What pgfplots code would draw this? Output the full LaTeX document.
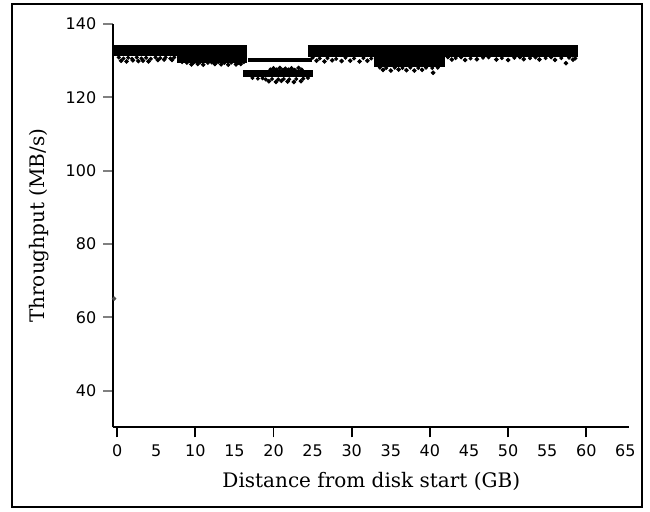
\documentclass[border=0pt]{standalone}
\usepackage{fontspec}
\setmainfont{DejaVu Serif}
\newfontfamily\tickfont{DejaVu Sans}
\usepackage{pgfplots}
\pgfplotsset{compat=1.18}

\begin{document}
\begin{tikzpicture}
\begin{axis}[at={(56.65pt,41.85pt)},anchor=south west,
 scale only axis,width=258pt,height=201.65pt,
 xmin=-0.5,xmax=65.5,ymin=30,ymax=140,clip=false,
 axis lines*=left,axis line style={line width=0.9pt},
 tick align=outside,major tick length=5pt,minor tick length=5pt,
 xtick={0,5,...,65},minor xtick={0,10,...,60},
 ytick={40,60,...,140},
 every major x tick/.append style={draw=none},
 every minor x tick/.append style={draw=black,line width=0.9pt},
 every major y tick/.append style={line width=0.9pt},
 /pgf/number format/assume math mode=true,
 tick label style={font=\tickfont\fontsize{8pt}{9pt}\selectfont},
 xlabel={Distance from disk start (GB)},ylabel={Throughput (MB/s)},
 label style={font=\fontsize{10pt}{12pt}\selectfont},
 xlabel style={at={(axis description cs:0.5,-0.1488)},anchor=base},
 ylabel style={at={(axis description cs:-0.1325,0.5)},anchor=base}]
% bands
\addplot[black,line width=5.5pt,no marks] coordinates {(-0.6,132.8) (16.6,132.8)};
\addplot[black,line width=3.5pt,no marks] coordinates {(7.6,130.35) (16.6,130.35)};
\addplot[black,line width=1.75pt,no marks] coordinates {(16.7,130.2) (24.9,130.2)};
\addplot[black,line width=3.3pt,no marks] coordinates {(16.1,126.5) (25.0,126.5)};
\addplot[black,line width=5.8pt,no marks] coordinates {(24.4,132.7) (59.0,132.7)};
\addplot[black,line width=5pt,no marks] coordinates {(32.9,129.7) (41.9,129.7)};
% fringe just under the bands
\addplot[only marks,mark=*,mark size=0.8pt,black] coordinates {
 (0.2,130.9) (0.8,130.6) (1.4,130.8) (1.9,130.5) (2.5,130.9) (3.1,130.6) (3.7,130.8) (4.3,130.5) (4.9,130.9) (5.5,130.7) (6.2,130.9) (6.8,130.6) (7.3,130.9)
 (8.3,129.6) (8.9,129.4) (9.8,129.5) (10.6,129.6) (11.6,129.4) (12.1,129.5) (12.9,129.6) (13.7,129.4) (14.6,129.5) (15.5,129.4) (16.2,129.6)
 (17.3,125.3) (18.0,125.1) (18.6,125.2) (19.0,124.9) (19.8,125.0) (20.6,124.9) (21.3,125.0) (22.0,124.9) (22.9,125.0) (23.8,125.1) (24.4,125.3)
 (19.6,127.6) (20.4,127.6) (21.2,127.5) (21.9,127.6) (22.7,127.5) (23.6,127.6)
 (25.0,130.8) (25.9,130.6) (26.9,130.7) (28.0,130.5) (29.2,130.8) (30.3,130.6) (31.5,130.7) (32.5,130.6)
 (42.3,130.9) (43.3,130.7) (44.0,130.9) (45.2,130.6) (46.8,130.8) (47.5,130.9) (49.2,130.7) (50.8,130.8) (51.5,130.9) (52.8,130.7) (53.5,130.9) (54.8,130.7) (55.5,130.9) (56.8,130.7) (57.8,130.8) (58.6,130.6)
 (33.6,128.1) (34.4,128.0) (35.5,128.1) (36.5,128.0) (37.5,128.1) (38.5,128.0) (39.5,128.1) (40.3,128.0) (41.0,128.1)
};
% scattered points
\addplot[only marks,mark=*,mark size=0.95pt,black] coordinates {
 (0.5,130.0) (1.2,129.8) (2.0,130.1) (2.7,129.9) (3.3,130.0) (4.0,129.8) (5.2,130.2) (6.0,130.3) (7.0,130.2)
 (9.5,129.0) (10.3,129.1) (11.0,128.9) (12.5,129.1) (13.3,129.0) (14.2,128.9) (15.2,129.0) (15.8,129.1)
 (19.4,124.4) (20.3,124.2) (21.0,124.5) (21.8,124.3) (22.6,124.2) (23.5,124.4)
 (20.0,127.9) (20.8,128.0) (21.5,127.8) (22.3,127.9) (23.2,128.0)
 (25.5,130.0) (26.5,129.8) (27.5,130.1) (28.7,129.9) (29.8,130.0) (31.0,129.8) (32.0,130.0)
 (42.8,130.3) (44.5,130.2) (46.0,130.4) (48.5,130.3) (50.0,130.2) (52.0,130.4) (54.0,130.3) (56.0,130.2) (57.4,129.3) (58.3,130.3)
 (34.0,127.5) (35.0,127.3) (36.0,127.6) (37.0,127.4) (38.0,127.3) (39.0,127.5) (40.4,126.7)
};
\addplot[only marks,mark=*,mark size=0.9pt,black!70] coordinates {(-0.4,65.1)};
\end{axis}
\draw[line width=1pt] (5.85pt,2.15pt) rectangle (320.85pt,253.5pt);
\pgfresetboundingbox
\useasboundingbox (0,0) rectangle (325pt,255.5pt);
\end{tikzpicture}
\end{document}
